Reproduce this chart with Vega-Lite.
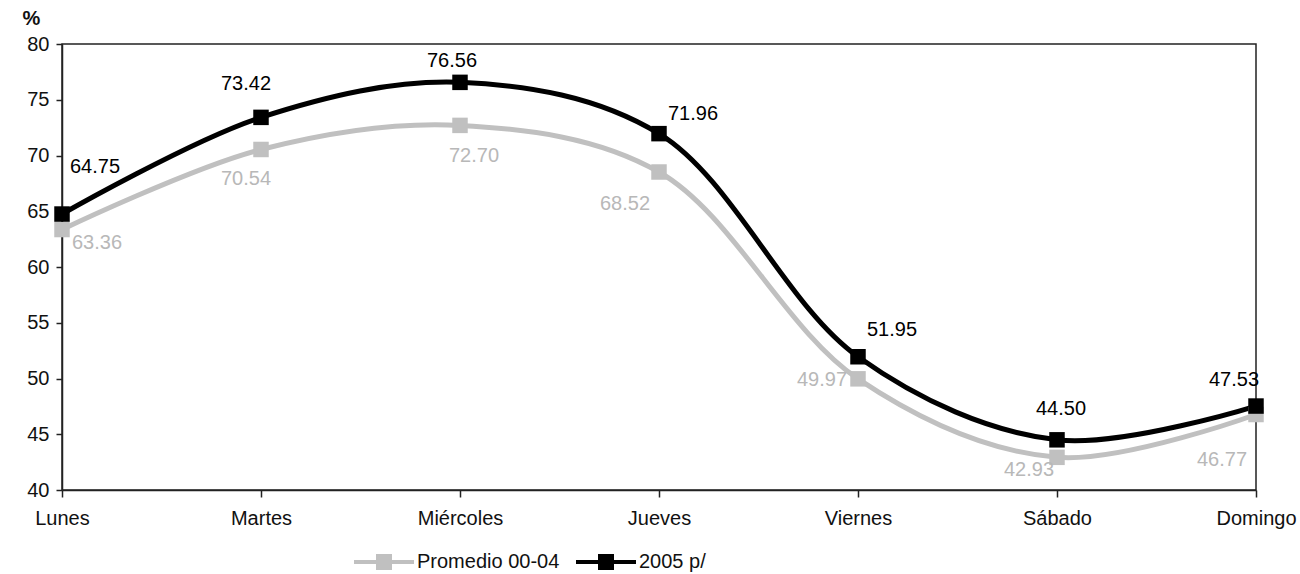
{
  "$schema": "https://vega.github.io/schema/vega-lite/v6.json",
  "autosize": {"type": "none"},
  "padding": {"left": 62, "top": 44, "right": 44, "bottom": 84},
  "width": 1194,
  "height": 446,
  "background": "white",
  "config": {
    "font": "Liberation Sans",
    "view": {"stroke": "#222222", "strokeWidth": 1.5},
    "axis": {
      "domainColor": "#222222",
      "domainWidth": 1.5,
      "tickColor": "#222222",
      "tickWidth": 1.5,
      "labelColor": "#111111",
      "labelFontSize": 20,
      "grid": false
    },
    "text": {"fontSize": 20}
  },
  "data": {
    "values": [
      {"dia": "Lunes", "serie": "Promedio 00-04", "valor": 63.36},
      {"dia": "Martes", "serie": "Promedio 00-04", "valor": 70.54},
      {"dia": "Miércoles", "serie": "Promedio 00-04", "valor": 72.70},
      {"dia": "Jueves", "serie": "Promedio 00-04", "valor": 68.52},
      {"dia": "Viernes", "serie": "Promedio 00-04", "valor": 49.97},
      {"dia": "Sábado", "serie": "Promedio 00-04", "valor": 42.93},
      {"dia": "Domingo", "serie": "Promedio 00-04", "valor": 46.77},
      {"dia": "Lunes", "serie": "2005 p/", "valor": 64.75},
      {"dia": "Martes", "serie": "2005 p/", "valor": 73.42},
      {"dia": "Miércoles", "serie": "2005 p/", "valor": 76.56},
      {"dia": "Jueves", "serie": "2005 p/", "valor": 71.96},
      {"dia": "Viernes", "serie": "2005 p/", "valor": 51.95},
      {"dia": "Sábado", "serie": "2005 p/", "valor": 44.50},
      {"dia": "Domingo", "serie": "2005 p/", "valor": 47.53}
    ]
  },
  "encoding": {
    "x": {
      "field": "dia",
      "type": "ordinal",
      "sort": ["Lunes", "Martes", "Miércoles", "Jueves", "Viernes", "Sábado", "Domingo"],
      "scale": {"type": "point", "padding": 0},
      "axis": {"title": null, "labelAngle": 0, "tickSize": 7, "labelPadding": 11}
    },
    "y": {
      "field": "valor",
      "type": "quantitative",
      "scale": {"domain": [40, 80], "nice": false, "zero": false},
      "axis": {
        "values": [40, 45, 50, 55, 60, 65, 70, 75, 80],
        "tickSize": 6,
        "labelPadding": 7,
        "title": "%",
        "titleAngle": 0,
        "titleFontSize": 20,
        "titleFontWeight": "bold",
        "titleColor": "#111111",
        "titleX": -31,
        "titleY": -26,
        "titleAlign": "center",
        "titleBaseline": "middle"
      }
    }
  },
  "layer": [
    {
      "mark": {"type": "line", "interpolate": "catmull-rom", "strokeWidth": 5},
      "encoding": {
        "color": {
          "field": "serie",
          "type": "nominal",
          "scale": {"domain": ["Promedio 00-04", "2005 p/"], "range": ["#c0c0c0", "#000000"]},
          "legend": {
            "title": null,
            "orient": "none",
            "direction": "horizontal",
            "legendX": 290,
            "legendY": 486,
            "padding": 0,
            "symbolType": "M-1,0H1M-0.2,-0.2H0.2V0.2H-0.2Z",
            "symbolSize": 3600,
            "symbolStrokeWidth": 4,
            "labelFontSize": 20,
            "labelColor": "#111111",
            "labelOffset": 1,
            "columnPadding": 8
          }
        }
      }
    },
    {
      "mark": {"type": "point", "shape": "square", "filled": true, "size": 240, "opacity": 1},
      "encoding": {
        "color": {"field": "serie", "type": "nominal"}
      }
    },
    {
      "transform": [{"filter": "datum.serie === '2005 p/' && datum.dia === 'Lunes'"}],
      "mark": {"type": "text", "color": "#000000", "dx": 33, "dy": -47},
      "encoding": {"text": {"field": "valor", "type": "quantitative", "format": ".2f"}}
    },
    {
      "transform": [{"filter": "datum.serie === '2005 p/' && datum.dia === 'Martes'"}],
      "mark": {"type": "text", "color": "#000000", "dx": -15, "dy": -33},
      "encoding": {"text": {"field": "valor", "type": "quantitative", "format": ".2f"}}
    },
    {
      "transform": [{"filter": "datum.serie === '2005 p/' && datum.dia === 'Miércoles'"}],
      "mark": {"type": "text", "color": "#000000", "dx": -8, "dy": -21},
      "encoding": {"text": {"field": "valor", "type": "quantitative", "format": ".2f"}}
    },
    {
      "transform": [{"filter": "datum.serie === '2005 p/' && datum.dia === 'Jueves'"}],
      "mark": {"type": "text", "color": "#000000", "dx": 34, "dy": -20},
      "encoding": {"text": {"field": "valor", "type": "quantitative", "format": ".2f"}}
    },
    {
      "transform": [{"filter": "datum.serie === '2005 p/' && datum.dia === 'Viernes'"}],
      "mark": {"type": "text", "color": "#000000", "dx": 34, "dy": -27},
      "encoding": {"text": {"field": "valor", "type": "quantitative", "format": ".2f"}}
    },
    {
      "transform": [{"filter": "datum.serie === '2005 p/' && datum.dia === 'Sábado'"}],
      "mark": {"type": "text", "color": "#000000", "dx": 4, "dy": -31},
      "encoding": {"text": {"field": "valor", "type": "quantitative", "format": ".2f"}}
    },
    {
      "transform": [{"filter": "datum.serie === '2005 p/' && datum.dia === 'Domingo'"}],
      "mark": {"type": "text", "color": "#000000", "dx": -22, "dy": -26},
      "encoding": {"text": {"field": "valor", "type": "quantitative", "format": ".2f"}}
    },
    {
      "transform": [{"filter": "datum.serie === 'Promedio 00-04' && datum.dia === 'Lunes'"}],
      "mark": {"type": "text", "color": "#b8b8b8", "dx": 35, "dy": 13},
      "encoding": {"text": {"field": "valor", "type": "quantitative", "format": ".2f"}}
    },
    {
      "transform": [{"filter": "datum.serie === 'Promedio 00-04' && datum.dia === 'Martes'"}],
      "mark": {"type": "text", "color": "#b8b8b8", "dx": -15, "dy": 30},
      "encoding": {"text": {"field": "valor", "type": "quantitative", "format": ".2f"}}
    },
    {
      "transform": [{"filter": "datum.serie === 'Promedio 00-04' && datum.dia === 'Miércoles'"}],
      "mark": {"type": "text", "color": "#b8b8b8", "dx": 14, "dy": 31},
      "encoding": {"text": {"field": "valor", "type": "quantitative", "format": ".2f"}}
    },
    {
      "transform": [{"filter": "datum.serie === 'Promedio 00-04' && datum.dia === 'Jueves'"}],
      "mark": {"type": "text", "color": "#b8b8b8", "dx": -34, "dy": 32},
      "encoding": {"text": {"field": "valor", "type": "quantitative", "format": ".2f"}}
    },
    {
      "transform": [{"filter": "datum.serie === 'Promedio 00-04' && datum.dia === 'Viernes'"}],
      "mark": {"type": "text", "color": "#b8b8b8", "dx": -36, "dy": 1},
      "encoding": {"text": {"field": "valor", "type": "quantitative", "format": ".2f"}}
    },
    {
      "transform": [{"filter": "datum.serie === 'Promedio 00-04' && datum.dia === 'Sábado'"}],
      "mark": {"type": "text", "color": "#b8b8b8", "dx": -28, "dy": 13},
      "encoding": {"text": {"field": "valor", "type": "quantitative", "format": ".2f"}}
    },
    {
      "transform": [{"filter": "datum.serie === 'Promedio 00-04' && datum.dia === 'Domingo'"}],
      "mark": {"type": "text", "color": "#b8b8b8", "dx": -34, "dy": 45},
      "encoding": {"text": {"field": "valor", "type": "quantitative", "format": ".2f"}}
    }
  ]
}
